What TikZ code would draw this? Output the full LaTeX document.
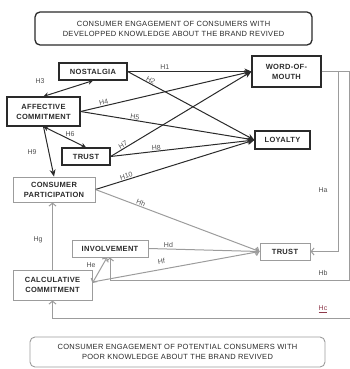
\documentclass[tikz,border=0pt]{standalone}
\usepackage{fontspec}
\setmainfont{Liberation Sans}[LetterSpace=4]
\newfontfamily\labelfont{Liberation Sans}
\usetikzlibrary{positioning,arrows.meta}
\definecolor{darkline}{HTML}{2A2A2A}
\definecolor{lightline}{HTML}{9C9C9C}
\definecolor{labelgray}{HTML}{505050}
\definecolor{hcred}{HTML}{8E3A4C}

\begin{document}
\begin{tikzpicture}[x=1pt, y=-1pt,
        titlebox/.style={rectangle, rounded corners=5pt, draw=darkline, line width=1.3pt, align=center, inner sep=0pt, text=darkline, font=\fontsize{7.5}{10}\selectfont},
        notebox/.style={rectangle, rounded corners=5pt, draw=lightline, line width=0.9pt, align=center, inner sep=0pt, text=darkline, font=\fontsize{7.5}{10}\selectfont},
        upperbox/.style={rectangle, draw=darkline, line width=1.2pt, align=center, inner sep=0pt, text=darkline, font=\bfseries\fontsize{7.5}{10}\selectfont},
        lowerbox/.style={rectangle, draw=lightline, line width=0.9pt, align=center, inner sep=0pt, text=darkline, font=\bfseries\fontsize{7.5}{10}\selectfont},
        hlabel/.style={inner sep=0.5pt, text=labelgray, font=\labelfont\fontsize{7}{8}\selectfont},
        higharrow/.style={draw=darkline, line width=1pt, -{Stealth[length=7pt,width=6pt]}},
        highboth/.style={draw=darkline, line width=1pt, {Stealth[length=5pt,width=5pt]}-{Stealth[length=5pt,width=5pt]}},
        lowarrow/.style={draw=lightline, line width=1pt, -{Straight Barb[length=3pt,width=7pt]}},
        lowboth/.style={draw=lightline, line width=1pt, {Straight Barb[length=3pt,width=7pt]}-{Straight Barb[length=3pt,width=7pt]}},
        ]
        \useasboundingbox (0,0) rectangle (350,369);

        %Nodes
        \node[titlebox, minimum width=277pt, minimum height=33pt] (toptitle) at (173.5,28.5) {CONSUMER ENGAGEMENT OF CONSUMERS WITH\\DEVELOPPED KNOWLEDGE ABOUT THE BRAND REVIVED};
        \node[upperbox, minimum width=68pt, minimum height=17pt] (nostalgia) at (93,71.5) {NOSTALGIA};
        \node[upperbox, minimum width=69pt, minimum height=31pt] (wom) at (286.5,71.5) {WORD-OF-\\MOUTH};
        \node[upperbox, minimum width=73pt, minimum height=29pt] (affective) at (43.5,111.5) {AFFECTIVE\\COMMITMENT};
        \node[upperbox, minimum width=48pt, minimum height=17pt] (trustup) at (86,156.5) {TRUST};
        \node[upperbox, minimum width=55pt, minimum height=18pt] (loyalty) at (282.5,140) {LOYALTY};
        \node[lowerbox, minimum width=82pt, minimum height=25pt] (participation) at (54,189.5) {CONSUMER\\PARTICIPATION};
        \node[lowerbox, minimum width=76pt, minimum height=17pt] (involvement) at (110,248.5) {INVOLVEMENT};
        \node[lowerbox, minimum width=50pt, minimum height=17pt] (trustlow) at (285,251.5) {TRUST};
        \node[lowerbox, minimum width=79pt, minimum height=30pt] (calculative) at (52.5,285) {CALCULATIVE\\COMMITMENT};
        \node[notebox, minimum width=295pt, minimum height=30pt] (bottomtitle) at (177.5,352) {CONSUMER ENGAGEMENT OF POTENTIAL CONSUMERS WITH\\POOR KNOWLEDGE ABOUT THE BRAND REVIVED};
        \coordinate (hcin) at (352,318);

        %Lines
        \draw[higharrow] (nostalgia.east) -- node[hlabel, above=1pt, pos=0.3] (lh1) {H1} (wom.west);
        \draw[higharrow] (nostalgia.east) -- node[hlabel, above, sloped, pos=0.17] (lh2) {H2} (loyalty.west);
        \draw[highboth] (affective.north) -- (nostalgia.south);
        \draw[higharrow] (affective.east) -- node[hlabel, above, sloped, pos=0.14] (lh4) {H4} (wom.west);
        \draw[higharrow] (affective.east) -- node[hlabel, above, sloped, pos=0.31] (lh5) {H5} (loyalty.west);
        \draw[highboth] (affective.south) -- (trustup.north);
        \draw[higharrow] (trustup.east) -- node[hlabel, above, sloped, pos=0.1] (lh7) {H7} (wom.west);
        \draw[higharrow] (trustup.east) -- node[hlabel, above, sloped, pos=0.32] (lh8) {H8} (loyalty.west);
        \draw[higharrow] (affective.south) -- (participation.north);
        \draw[higharrow] (participation.east) -- node[hlabel, above, sloped, pos=0.2] (lh10) {H10} (loyalty.west);
        \draw[lowarrow] (participation.east) -- node[hlabel, above, sloped, pos=0.27] (lhh) {Hh} (trustlow.west);
        \draw[lowarrow] (involvement.east) -- node[hlabel, above, pos=0.18] (lhd) {Hd} (trustlow.west);
        \draw[lowarrow] ([yshift=3pt]calculative.east) -- node[hlabel, above, sloped, pos=0.42, yshift=4pt] (lhf) {Hf} (trustlow.west);
        \draw[lowboth] ([yshift=2pt]calculative.east) -- ([xshift=-3pt]involvement.south);
        \draw[lowarrow] (calculative.north) -- (calculative.north |- participation.south);
        \draw[lowarrow] (wom.east) -- ++(17,0) |- (trustlow.east);
        \draw[lowarrow] (wom.east) -- ++(27.5,0) |- (110,280) -- (involvement.south);
        \draw[lowarrow] (hcin) -| (calculative.south);

        %Labels
        \node[hlabel] (lh3) at (40,81) {H3};
        \node[hlabel] (lh6) at (70,134) {H6};
        \node[hlabel] (lh9) at (32,152) {H9};
        \node[hlabel] (lhg) at (38,240) {Hg};
        \node[hlabel] (lhe) at (91,265) {He};
        \node[hlabel] (lha) at (323,190) {Ha};
        \node[hlabel] (lhb) at (323,273) {Hb};
        \node[hlabel, text=hcred] (lhc) at (323,309) {\underline{Hc}};
        \end{tikzpicture}
\end{document}
